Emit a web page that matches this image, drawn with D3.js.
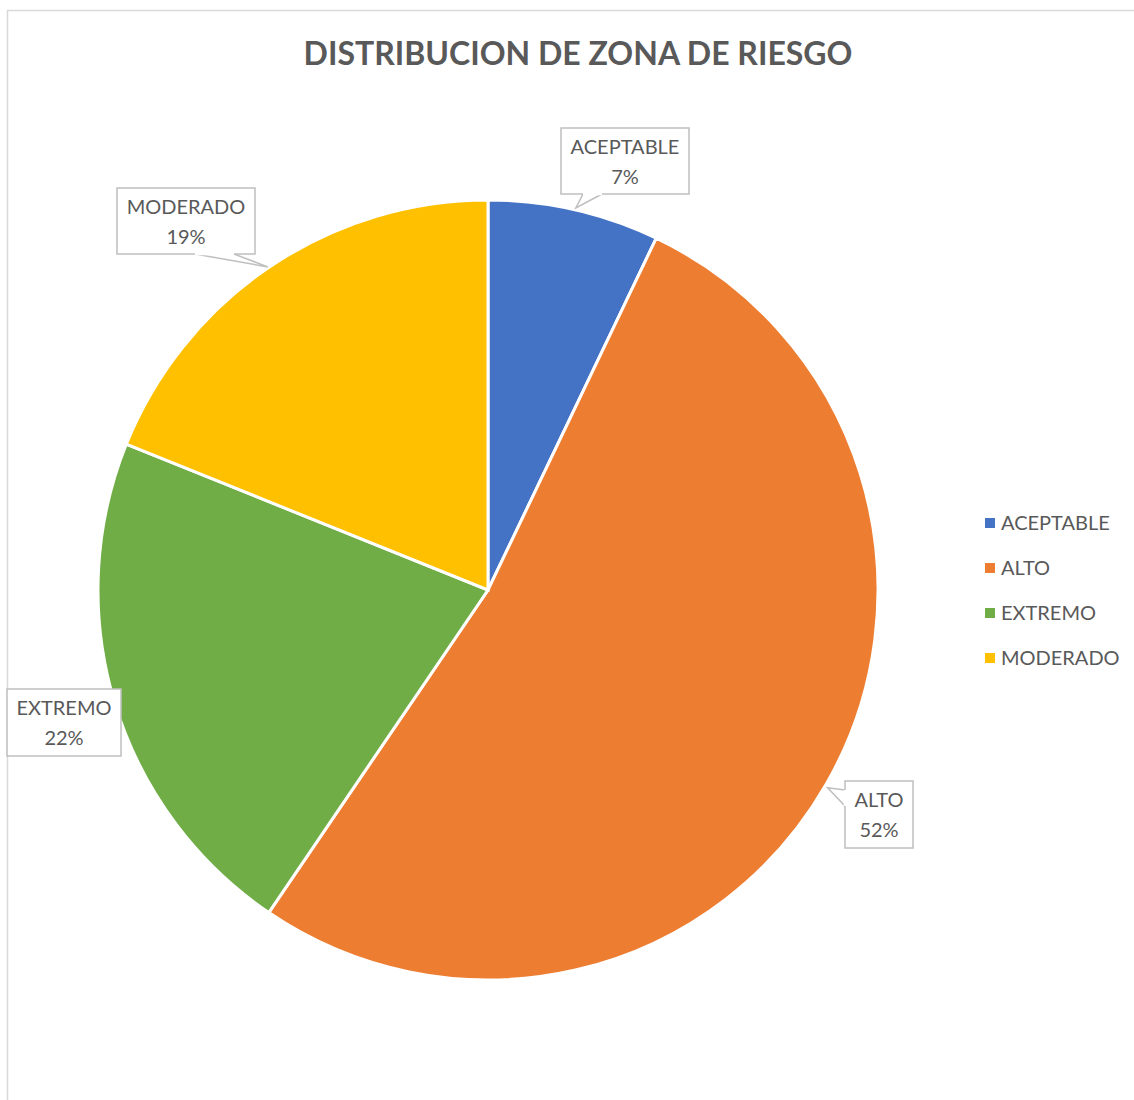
<!DOCTYPE html>
<html>
<head>
<meta charset="utf-8">
<script src="https://cdn.jsdelivr.net/npm/d3@7"></script>
<style>
  body { margin: 0; background: #fff; }
  text { font-family: Lato, "Open Sans", sans-serif; }
</style>
</head>
<body>
<svg id="chart" width="1134" height="1100"></svg>
<script>
const categories = ["ACEPTABLE", "ALTO", "EXTREMO", "MODERADO"];
const values = [7.1, 52.4, 21.6, 18.9];
const labels = ["7%", "52%", "22%", "19%"];
const colors = ["#4472C4", "#ED7D31", "#70AD47", "#FFC000"];

const svg = d3.select("#chart"),
    width = +svg.attr("width"),
    height = +svg.attr("height");

// chart area border
svg.append("rect")
    .attr("x", 7.5).attr("y", 10.5)
    .attr("width", width + 20).attr("height", height + 20)
    .attr("fill", "#fff")
    .attr("stroke", "#d9d9d9")
    .attr("stroke-width", 1.5);

svg.append("text")
    .attr("x", 578)
    .attr("y", 65)
    .attr("text-anchor", "middle")
    .style("font-size", "32px")
    .style("font-weight", 700)
    .style("fill", "#595959")
    .text("DISTRIBUCION DE ZONA DE RIESGO");

const cx = 488, cy = 590, radius = 390;

const pie = d3.pie().sort(null).value(d => d);
const arcs = pie(values);
const arc = d3.arc().innerRadius(0).outerRadius(radius);

const g = svg.append("g").attr("transform", "translate(" + cx + "," + cy + ")");
g.selectAll("path")
    .data(arcs)
    .enter()
    .append("path")
    .attr("d", arc)
    .attr("fill", (d, i) => colors[i])
    .attr("stroke", "#fff")
    .attr("stroke-width", 3);

// callout boxes: [x, y, w, h], pointer base on box edge, pointer tip as angle/radius
const callouts = [
    {box: [561, 128, 128, 66], base: [[583, 194], [602, 194]], tip: [0.226, 392]},
    {box: [845, 781, 68, 67], base: [[845, 790], [845, 806]], tip: [2.098, 393]},
    {box: [7, 689, 114, 67], base: null, tip: null},
    {box: [117, 188, 138, 66], base: [[195, 254], [234, 254]], tip: [5.685, 391]}
];

callouts.forEach(function(c, i) {
    const [bx, by, bw, bh] = c.box;
    const lg = svg.append("g");
    if (c.base) {
        const a = c.tip[0], r = c.tip[1];
        const tip = [cx + Math.sin(a) * r, cy - Math.cos(a) * r];
        lg.append("path")
            .attr("d", "M" + c.base[0] + "L" + tip + "L" + c.base[1] + "Z")
            .attr("fill", "#fff")
            .attr("stroke", "#bfbfbf")
            .attr("stroke-width", 1.5);
    }
    lg.append("rect")
        .attr("x", bx).attr("y", by)
        .attr("width", bw).attr("height", bh)
        .attr("fill", "#fff")
        .attr("stroke", "#bfbfbf")
        .attr("stroke-width", 1.5);
    if (c.base) {
        // open the box edge under the pointer
        lg.append("line")
            .attr("x1", c.base[0][0]).attr("y1", c.base[0][1])
            .attr("x2", c.base[1][0]).attr("y2", c.base[1][1])
            .attr("stroke", "#fff")
            .attr("stroke-width", 2.5);
    }
    lg.append("text")
        .attr("x", bx + bw / 2).attr("y", by + 26)
        .attr("text-anchor", "middle")
        .style("font-size", "20px")
        .style("fill", "#595959")
        .text(categories[i]);
    lg.append("text")
        .attr("x", bx + bw / 2).attr("y", by + 56)
        .attr("text-anchor", "middle")
        .style("font-size", "20px")
        .style("fill", "#595959")
        .text(labels[i]);
});

const legend = svg.append("g");
legend.selectAll("rect")
    .data(categories)
    .enter()
    .append("rect")
    .attr("x", 985)
    .attr("y", (d, i) => 518 + i * 45)
    .attr("width", 10).attr("height", 10)
    .attr("fill", (d, i) => colors[i]);
legend.selectAll("text")
    .data(categories)
    .enter()
    .append("text")
    .attr("x", 1001)
    .attr("y", (d, i) => 530 + i * 45)
    .style("font-size", "20px")
    .style("fill", "#595959")
    .text(d => d);
</script>
</body>
</html>
